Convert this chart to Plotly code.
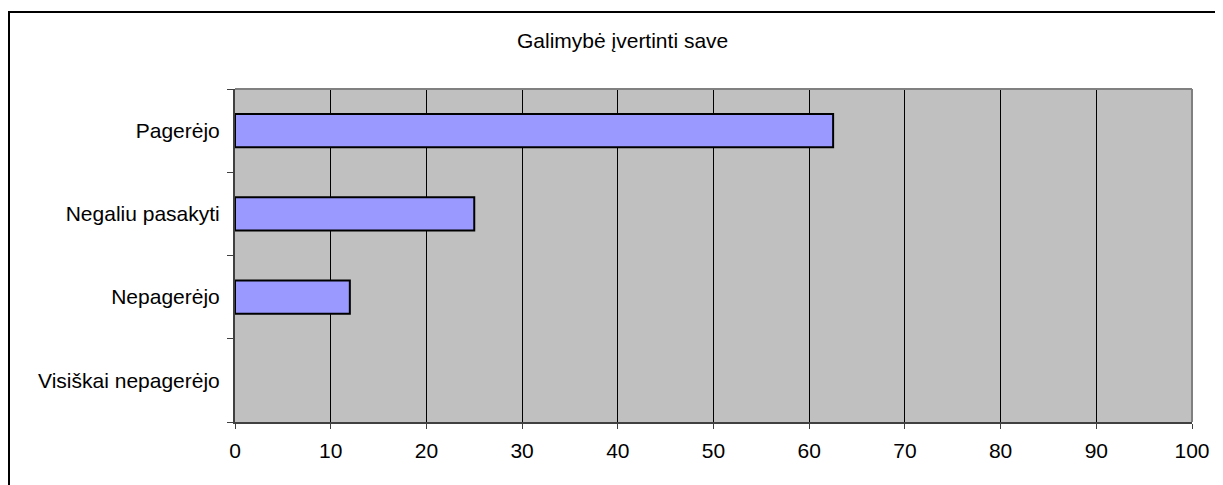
import plotly.graph_objects as go

title = "Galimybė įvertinti save"
categories = ["Pagerėjo", "Negaliu pasakyti", "Nepagerėjo", "Visiškai nepagerėjo"]
values = [62.5, 25, 12, 0]
x_ticks = [0, 10, 20, 30, 40, 50, 60, 70, 80, 90, 100]

FONT = "Liberation Sans, Arial, sans-serif"
OFF = 8  # default page body margin
W, H = 1223 - OFF, 485 - OFF
# target plot area in screen px: x 235..1192, y 89..422
L, T = 235 - OFF, 89 - OFF
R, B = 1223 - 1192, 485 - 422
pw, ph = W - L - R, H - T - B


def px_x(sx):
    return (sx - OFF - L) / pw


def px_y(sy):
    return (H - B - (sy - OFF)) / ph


line_w = [0 if v == 0 else 2 for v in values[::-1]]

fig = go.Figure()
fig.add_trace(go.Bar(
    x=values[::-1], y=categories[::-1], orientation="h",
    marker=dict(color="#9999FF", line=dict(color="black", width=line_w)),
    hoverinfo="x+y",
))

fig.update_layout(
    width=W, height=H,
    margin=dict(l=L, r=R, t=T, b=B),
    paper_bgcolor="white", plot_bgcolor="#C0C0C0",
    bargap=0.6, showlegend=False,
    font=dict(family=FONT, size=21, color="black"),
    xaxis=dict(range=[0, 100], tickvals=x_ticks, ticks="outside", ticklen=5,
               tickcolor="#404040", tickwidth=1, showline=True, linecolor="#404040",
               linewidth=2, showgrid=True, gridcolor="black", gridwidth=1,
               zeroline=False, fixedrange=True, ticklabelstandoff=4),
    yaxis=dict(type="category", categoryarray=categories[::-1], ticks="outside",
               tickson="boundaries", ticklen=6, tickcolor="#404040", tickwidth=1,
               showline=True, linecolor="#404040", linewidth=2, showgrid=False,
               zeroline=False, fixedrange=True, ticklabelstandoff=9),
    shapes=[
        dict(type="line", xref="paper", yref="paper", x0=0, x1=1, y0=1, y1=1,
             line=dict(color="#808080", width=2), layer="above"),
        dict(type="line", xref="paper", yref="paper", x0=1, x1=1, y0=0, y1=1,
             line=dict(color="#808080", width=2), layer="above"),
        dict(type="rect", xref="paper", yref="paper",
             x0=px_x(9), x1=px_x(1230), y0=px_y(492), y1=px_y(12),
             line=dict(color="black", width=2), layer="above"),
    ],
    annotations=[dict(text=title, xref="paper", yref="paper",
                      x=px_x(622.5), y=px_y(41),
                      xanchor="center", yanchor="middle", showarrow=False,
                      font=dict(family=FONT, size=21, color="black"))],
)

fig.write_html("out.html")
